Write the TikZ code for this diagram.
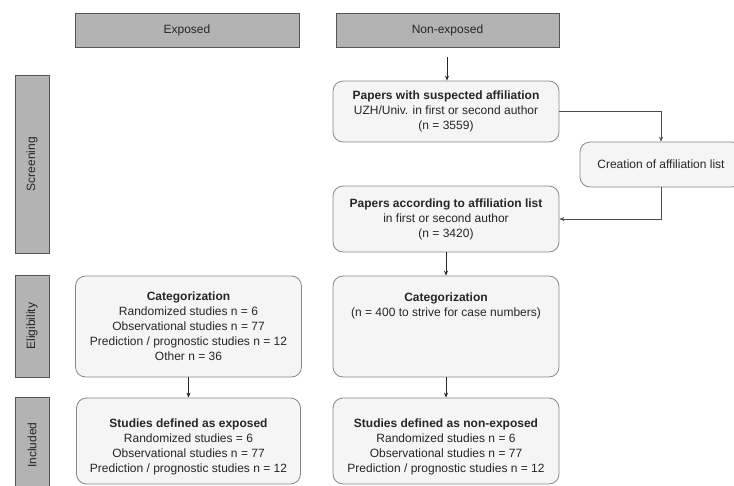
\documentclass[tikz,border=0pt]{standalone}
\usepackage{fontspec}
\setmainfont{Liberation Sans}
\usetikzlibrary{arrows.meta}
\definecolor{hdrfill}{HTML}{B3B3B3}
\definecolor{hdrline}{HTML}{555555}
\definecolor{boxfill}{HTML}{F5F5F5}
\definecolor{boxline}{HTML}{888888}
\definecolor{txt}{HTML}{262626}
\tikzset{
  hdr/.style={draw=hdrline, fill=hdrfill, line width=0.8pt, inner sep=0pt,
    font=\fontsize{12}{15}\selectfont, text=txt},
  lane/.style={hdr, rotate=90},
  rbox/.style={draw=boxline, fill=boxfill, line width=0.8pt, rounded corners=10pt,
    inner sep=0pt, align=center, font=\fontsize{12}{15}\selectfont, text=txt},
  arr/.style={draw=black!85, line width=0.7pt, -{Stealth[length=5pt,width=4pt]}},
  conn/.style={draw=black!70, line width=0.7pt, -{Stealth[length=5pt,width=4pt]}}
}
\begin{document}
\begin{tikzpicture}[x=1pt,y=-1pt]
\useasboundingbox (0,0) rectangle (734,485);
\clip (0,0) rectangle (734,485);
% headers
\node[hdr, minimum width=224pt, minimum height=34pt] (hexp) at (187,30) {Exposed};
\node[hdr, minimum width=223pt, minimum height=34pt] (hnon) at (447.5,30) {Non-exposed};
% lane labels
\node[lane, minimum width=178pt, minimum height=34pt] (lscr) at (32,164) {Screening};
\node[lane, minimum width=102pt, minimum height=34pt] (lelig) at (32,326) {Eligibility};
\node[lane, minimum width=96pt, minimum height=34pt] (linc) at (32,445) {Included};
% boxes
\node[rbox, minimum width=226pt, minimum height=61pt] (b1) at (446,111.5)
  {\textbf{Papers with suspected affiliation}\\UZH/Univ. in first or second author\\(n = 3559)};
\node[rbox, minimum width=162pt, minimum height=45pt] (side) at (661,164.5)
  {Creation of affiliation list};
\node[rbox, minimum width=226pt, minimum height=66pt] (b2) at (446,219)
  {\textbf{Papers according to affiliation list}\\in first or second author\\(n = 3420)};
\node[rbox, minimum width=226pt, minimum height=101pt] (catL) at (188.5,326.5)
  {\textbf{Categorization}\\Randomized studies n = 6\\Observational studies n = 77\\Prediction / prognostic studies n = 12\\Other n = 36};
\node[rbox, minimum width=226pt, minimum height=101pt] (catR) at (446,326.5)
  {\textbf{Categorization}\\(n = 400 to strive for case numbers)\\[29pt]};
\node[rbox, minimum width=224pt, minimum height=86pt] (incL) at (188.5,441)
  {\rule{0pt}{20pt}\textbf{Studies defined as exposed}\\Randomized studies = 6\\Observational studies n = 77\\Prediction / prognostic studies n = 12};
\node[rbox, minimum width=226pt, minimum height=86pt] (incR) at (446,441)
  {\rule{0pt}{20pt}\textbf{Studies defined as non-exposed}\\Randomized studies n = 6\\Observational studies n = 77\\Prediction / prognostic studies n = 12};
% connectors
\coordinate (s0) at (447,57);
\draw[arr] (s0) -- (s0 |- b1.north);
\draw[conn] (b1.east) -| (side.north);
\draw[conn] (side.south) |- (b2.east);
\draw[arr] (b2.south) -- (catR.north);
\draw[arr] (catL.south) -- (incL.north);
\draw[arr] (catR.south) -- (incR.north);
\end{tikzpicture}
\end{document}
